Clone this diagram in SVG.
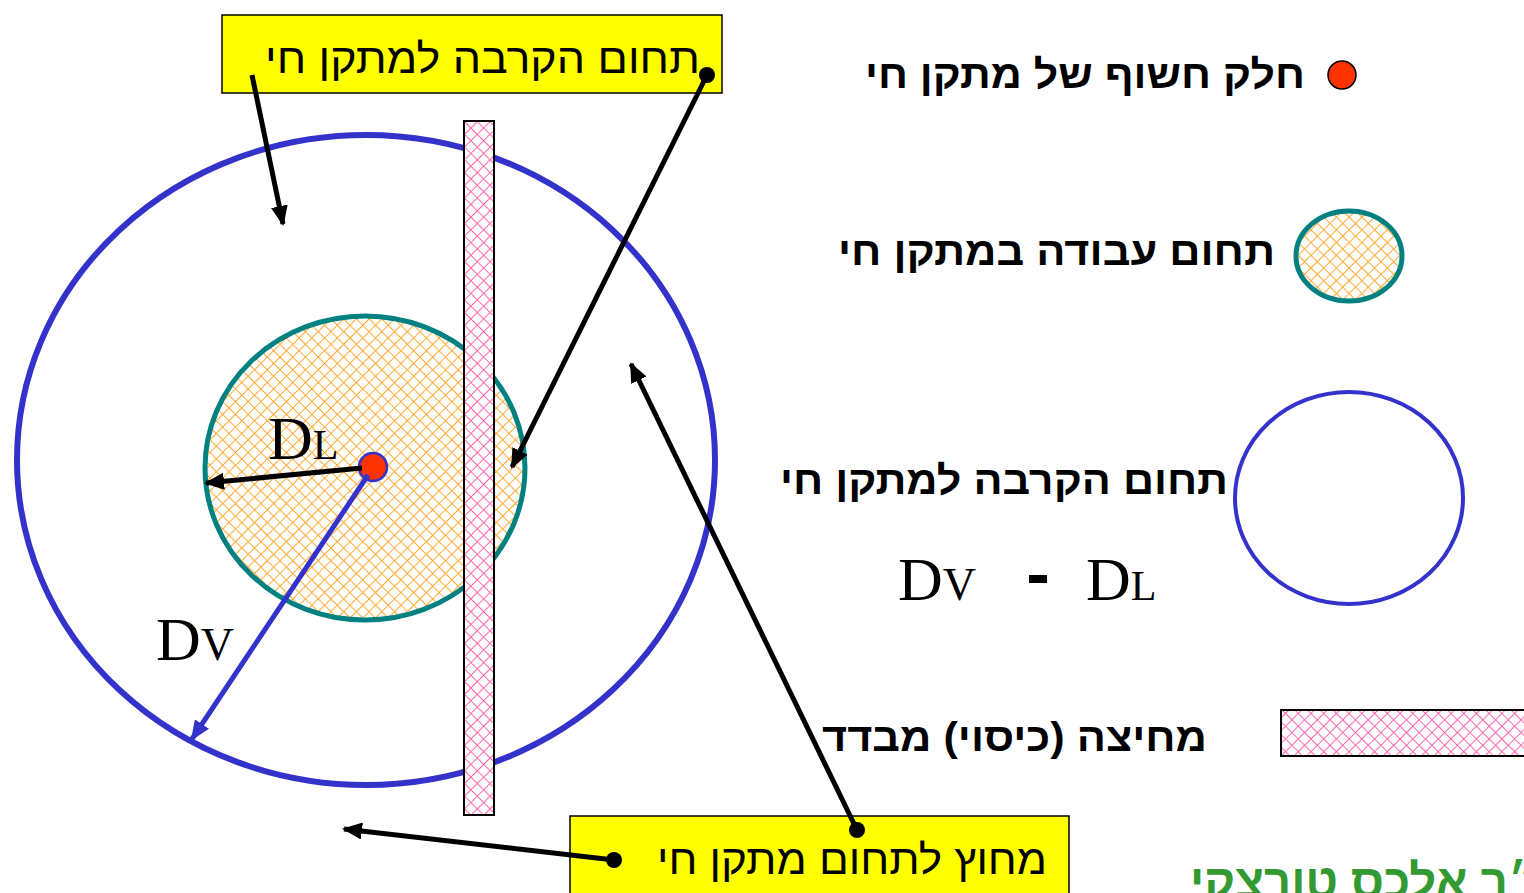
<svg xmlns="http://www.w3.org/2000/svg" width="1524" height="893" viewBox="0 0 1524 893">
<style>
.heb{font-family:"Liberation Sans","DejaVu Sans",sans-serif;fill:#000}
.hb{font-weight:bold;font-size:40px}
.hr{font-size:41px}
.tm{font-family:"Liberation Serif","Times New Roman",serif;fill:#000}
.conn{stroke:#000;stroke-width:5;fill:none}
</style>
<defs>
<pattern id="orange" width="9" height="9" patternUnits="userSpaceOnUse" patternTransform="rotate(45)">
<rect width="9" height="9" fill="#fff"/>
<path d="M0 0H9M0 0V9" stroke="#ffaa33" stroke-width="2"/>
</pattern>
<pattern id="pink" width="9" height="9" patternUnits="userSpaceOnUse" patternTransform="rotate(45)">
<rect width="9" height="9" fill="#fff"/>
<path d="M0 0H9M0 0V9" stroke="#ff66aa" stroke-width="2"/>
</pattern>
<marker id="ah" markerWidth="4" markerHeight="3.4" refX="3.6" refY="1.7" orient="auto" markerUnits="strokeWidth">
<path d="M0 0L4 1.7L0 3.4Z" fill="#000"/>
</marker>
<marker id="ahb" markerWidth="4" markerHeight="3.4" refX="3.6" refY="1.7" orient="auto" markerUnits="strokeWidth">
<path d="M0 0L4 1.7L0 3.4Z" fill="#3333cc"/>
</marker>
</defs>
<rect width="1524" height="893" fill="#fff"/>

<g id="approach-zone">
<ellipse cx="366" cy="460" rx="349" ry="325" fill="none" stroke="#3333cc" stroke-width="6"/>
</g>
<g id="work-zone">
<ellipse cx="365" cy="468" rx="160" ry="152" fill="url(#orange)" stroke="#008080" stroke-width="5"/>
</g>
<g id="barrier">
<rect x="464" y="121" width="30" height="694" fill="url(#pink)" stroke="#000" stroke-width="2"/>
</g>
<g id="live-part">
<circle cx="373" cy="467" r="14" fill="#ff3300" stroke="#3333cc" stroke-width="2.5"/>
</g>
<g id="label-DL">
<text class="tm" x="268" y="459"><tspan font-size="62">D</tspan><tspan font-size="42">L</tspan></text>
</g>
<g id="label-DV">
<text class="tm" x="156" y="660"><tspan font-size="62">D</tspan><tspan font-size="46">V</tspan></text>
</g>

<g id="box-top">
<rect x="222" y="15" width="500" height="78" fill="#ffff00" stroke="#000" stroke-width="1.5"/>
<text class="heb hr" x="265" y="73" textLength="435" lengthAdjust="spacingAndGlyphs">תחום הקרבה למתקן חי</text>
</g>
<g id="box-bottom">
<rect x="570" y="816" width="499" height="90" fill="#ffff00" stroke="#000" stroke-width="1.5"/>
<text class="heb hr" x="657" y="874" textLength="390" lengthAdjust="spacingAndGlyphs">מחוץ לתחום מתקן חי</text>
</g>

<g id="legend-live">
<circle cx="1342" cy="75" r="14" fill="#ff3300" stroke="#000" stroke-width="1.5"/>
<text class="heb hb" x="865" y="88" textLength="440" lengthAdjust="spacingAndGlyphs">חלק חשוף של מתקן חי</text>
</g>
<g id="legend-work">
<ellipse cx="1349" cy="256" rx="53" ry="45" fill="url(#orange)" stroke="#008080" stroke-width="5"/>
<text class="heb hb" x="838" y="265" textLength="437" lengthAdjust="spacingAndGlyphs">תחום עבודה במתקן חי</text>
</g>
<g id="legend-approach">
<ellipse cx="1349" cy="498" rx="114" ry="106" fill="none" stroke="#3333cc" stroke-width="4"/>
<text class="heb hb" x="780" y="494" textLength="448" lengthAdjust="spacingAndGlyphs">תחום הקרבה למתקן חי</text>
<text class="tm" x="898" y="600"><tspan font-size="62">D</tspan><tspan font-size="46">V</tspan></text>
<rect x="1029" y="575" width="18" height="8" fill="#000"/>
<text class="tm" x="1086" y="600"><tspan font-size="62">D</tspan><tspan font-size="42">L</tspan></text>
</g>
<g id="legend-barrier">
<rect x="1281" y="710" width="260" height="46" fill="url(#pink)" stroke="#000" stroke-width="2"/>
<text class="heb hb" x="822" y="751" textLength="385" lengthAdjust="spacingAndGlyphs">מחיצה (כיסוי) מבדד</text>
</g>
<g id="author">
<text x="1190" y="898" font-family="'Liberation Sans','DejaVu Sans',sans-serif" font-size="48" font-weight="bold" fill="#339933" textLength="375" lengthAdjust="spacingAndGlyphs">ד״ר אלכס טורצקי</text>
</g>

<g id="connectors">
<line class="conn" x1="252" y1="75" x2="283" y2="224" marker-end="url(#ah)"/>
<line class="conn" x1="707" y1="75" x2="512" y2="467" marker-end="url(#ah)"/>
<circle cx="707" cy="75" r="8" fill="#000"/>
<line class="conn" x1="857" y1="830" x2="631" y2="364" marker-end="url(#ah)"/>
<circle cx="857" cy="830" r="8" fill="#000"/>
<line class="conn" x1="614" y1="860" x2="344" y2="829" marker-end="url(#ah)"/>
<circle cx="614" cy="860" r="8" fill="#000"/>
<line class="conn" x1="362" y1="468" x2="206" y2="483" marker-end="url(#ah)"/>
<line x1="368" y1="475" x2="192" y2="739" stroke="#3333cc" stroke-width="5" marker-end="url(#ahb)"/>
</g>
</svg>
